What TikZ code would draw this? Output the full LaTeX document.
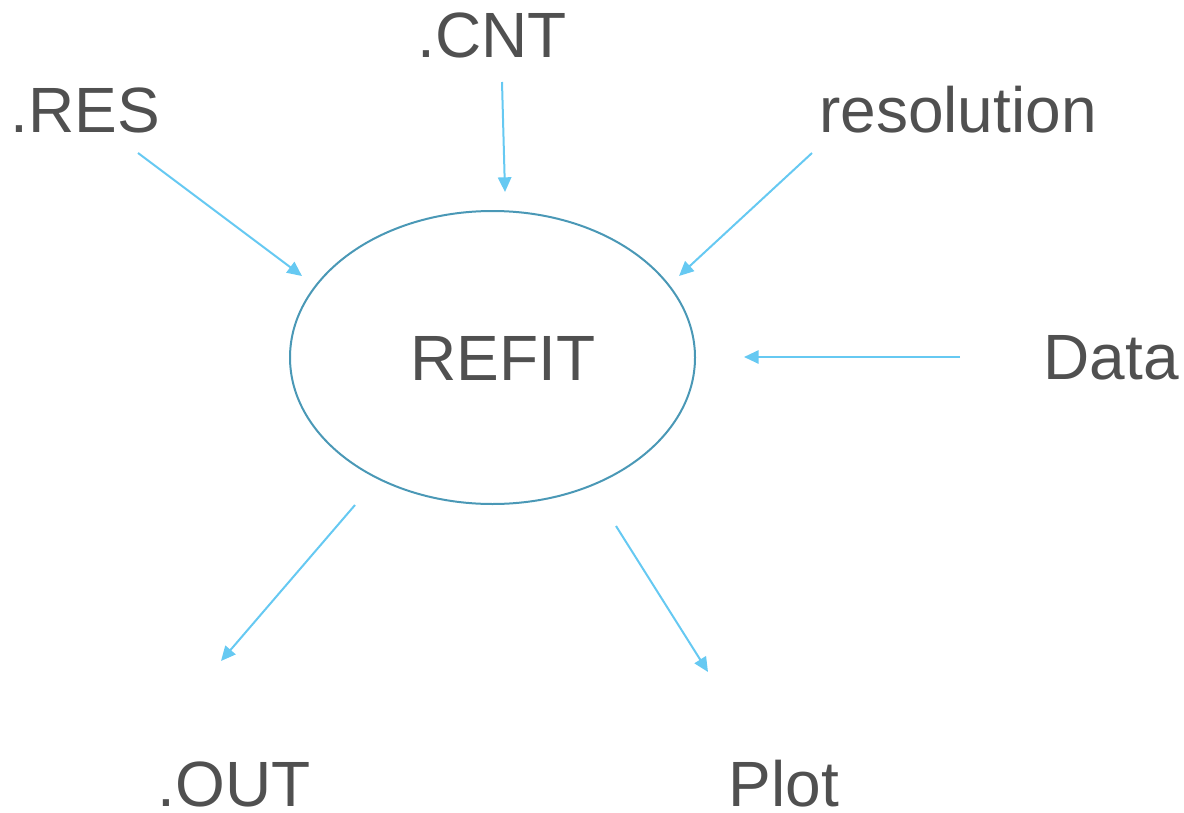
\documentclass[tikz,border=0pt]{standalone}
\usepackage{fontspec}
\setmainfont{Liberation Sans}
\usetikzlibrary{arrows.meta}
\definecolor{txt}{HTML}{505050}
\definecolor{arr}{HTML}{66C9F2}
\definecolor{ell}{HTML}{4A98B6}
\tikzset{
  lbl/.style={inner sep=0pt, text=txt, font=\fontsize{48}{58}\selectfont},
  flow/.style={draw=arr, line width=1.5pt, -{Triangle[length=11pt,width=10pt]}},
}
\begin{document}
\begin{tikzpicture}[x=0.75pt,y=-0.75pt]
\useasboundingbox (0,0) rectangle (1184,813);
\draw[ell, line width=1.5pt] (492.5,357.5) ellipse [x radius=202.5, y radius=146.5];
\node[lbl] (refit) at (503,358) {REFIT};
\node[lbl] (res) at (85,110) {.RES};
\node[lbl] (cnt) at (492,35) {.CNT};
\node[lbl] (resol) at (958,110) {resolution};
\node[lbl] (data) at (1111,358) {Data};
\node[lbl] (out) at (234,784) {.OUT};
\node[lbl] (plot) at (784,784) {Plot};
\coordinate (a1) at (138,153); \coordinate (b1) at (302,276);
\coordinate (a2) at (502,82);  \coordinate (b2) at (505,192);
\coordinate (a3) at (812,153); \coordinate (b3) at (679,276);
\coordinate (a4) at (960,357); \coordinate (b4) at (744,357);
\coordinate (a5) at (355,505); \coordinate (b5) at (221,661);
\coordinate (a6) at (616,526); \coordinate (b6) at (708,672);
\draw[flow] (a1) -- (b1);
\draw[flow] (a2) -- (b2);
\draw[flow] (a3) -- (b3);
\draw[flow] (a4) -- (b4);
\draw[flow] (a5) -- (b5);
\draw[flow] (a6) -- (b6);
\end{tikzpicture}
\end{document}
